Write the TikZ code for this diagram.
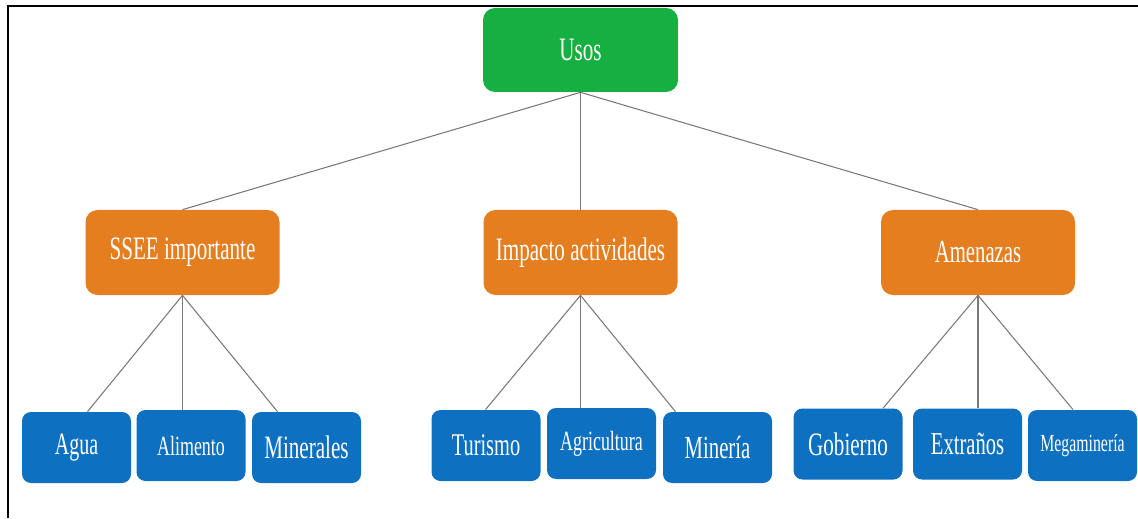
\documentclass[tikz,border=0pt]{standalone}
\usepackage{fontspec}
\setmainfont{Liberation Serif}
\usepackage{graphicx}

\definecolor{usosgreen}{RGB}{22,176,66}
\definecolor{midorange}{RGB}{229,126,30}
\definecolor{leafblue}{RGB}{14,112,192}
\definecolor{linkgray}{RGB}{120,120,120}

% taller, narrow looking labels
\newcommand{\tallt}[1]{\scalebox{1}[1.55]{#1}}

\tikzset{
    topbox/.style={fill=usosgreen, text=white, rounded corners=0.24cm,
        minimum width=3.9cm, minimum height=1.68cm, inner sep=0pt,
        font=\fontsize{12}{14}\selectfont},
    midbox/.style={fill=midorange, text=white, rounded corners=0.24cm,
        minimum width=3.88cm, minimum height=1.7cm, inner sep=0pt,
        font=\fontsize{12}{14}\selectfont},
    leafbox/.style={fill=leafblue, text=white, rounded corners=0.18cm,
        minimum width=2.18cm, minimum height=1.42cm, inner sep=0pt,
        font=\fontsize{12}{14}\selectfont},
    link/.style={draw=linkgray, line width=0.6pt}
}

\begin{document}
\begin{tikzpicture}
        \useasboundingbox (0,0) rectangle (22.76,10.36);
        \draw[line width=0.85pt] (0.16,0) -- (0.16,10.24) -- (22.76,10.24);

        \node[topbox] (usos) at (11.61,9.36) {\tallt{Usos}};

        \node[midbox] (ssee) at (3.65,5.31) {\tallt{SSEE importante}};
        \node[midbox] (impacto) at (11.61,5.31) {\tallt{Impacto actividades}};
        \node[midbox, font=\fontsize{11.8}{14}\selectfont] (amenazas) at (19.56,5.31) {\tallt{Amenazas}};

        \node[leafbox, font=\fontsize{11.4}{13}\selectfont] (agua) at (1.53,1.41) {\tallt{Agua}};
        \node[leafbox, font=\fontsize{10.2}{12}\selectfont] (alimento) at (3.82,1.45) {\tallt{Alimento}};
        \node[leafbox] (minerales) at (6.13,1.41) {\tallt{Minerales}};
        \node[leafbox, font=\fontsize{11.6}{13}\selectfont] (turismo) at (9.72,1.45) {\tallt{Turismo}};
        \node[leafbox, font=\fontsize{10.2}{12}\selectfont] (agricultura) at (12.03,1.49) {\tallt{Agricultura}};
        \node[leafbox, font=\fontsize{11.8}{13}\selectfont] (mineria) at (14.35,1.41) {\tallt{Minería}};
        \node[leafbox] (gobierno) at (16.96,1.48) {\tallt{Gobierno}};
        \node[leafbox, font=\fontsize{11.7}{13}\selectfont] (extranos) at (19.35,1.48) {\tallt{Extraños}};
        \node[leafbox, font=\fontsize{9}{11}\selectfont] (megamineria) at (21.65,1.45) {\tallt{Megaminería}};

        \draw[link] (usos.south) -- (ssee.north);
        \draw[link] (usos.south) -- (impacto.north);
        \draw[link] (usos.south) -- (amenazas.north);

        \foreach \p/\a/\b/\c in {ssee/agua/alimento/minerales,
                impacto/turismo/agricultura/mineria,
                amenazas/gobierno/extranos/megamineria}{
            \draw[link] (\p.south) -- ([xshift=-1.9cm]\p.south |- \a.north);
            \draw[link] (\p.south) -- (\p.south |- \b.north);
            \draw[link] (\p.south) -- ([xshift=1.9cm]\p.south |- \c.north);
        }
    \end{tikzpicture}
\end{document}
